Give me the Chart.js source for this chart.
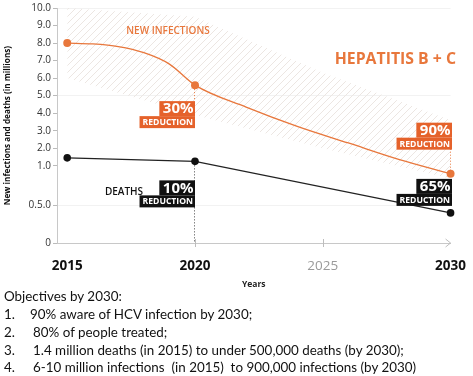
<!DOCTYPE html>
<html><head><meta charset="utf-8">
<script src="https://cdn.jsdelivr.net/npm/chart.js@4.4.1/dist/chart.umd.min.js"></script>
<style>
html,body{margin:0;padding:0;background:#fff;}
#wrap{position:relative;width:473px;height:376px;overflow:hidden;background:#fff;}
#c{position:absolute;left:0;top:0;}
.ln{position:absolute;left:0;height:18px;line-height:18px;font-family:Lato,'Open Sans',sans-serif;font-size:13.4px;color:#111;white-space:pre;}
.ln span{position:absolute;top:0;}
</style></head>
<body><div id="wrap"><canvas id="c" width="473" height="292"></canvas>
<div class="ln" style="top:287px"><span style="left:4px">Objectives by 2030:</span></div>
<div class="ln" style="top:305px"><span style="left:4px">1.</span><span style="left:30px">90% aware of HCV infection by 2030;</span></div>
<div class="ln" style="top:323px"><span style="left:4px">2.</span><span style="left:33px">80% of people treated;</span></div>
<div class="ln" style="top:341px"><span style="left:4px">3.</span><span style="left:33px">1.4 million deaths (in 2015) to under 500,000 deaths (by 2030);</span></div>
<div class="ln" style="top:358px"><span style="left:4px">4.</span><span style="left:33px">6-10 million infections  (in 2015)  to 900,000 infections (by 2030)</span></div>
</div>
<script>
// ---- data ----
const X_TICKS = [2015, 2020, 2025, 2030];
const Y_TICKS = [0, 0.5, 1, 2, 3, 4, 5, 6, 7, 8, 9, 10];
const Y_TICK_LABELS = ['0', '0.5.0', '1.0', '2.0', '3.0', '4.0', '5.0', '6.0', '7.0', '8.0', '9.0', '10.0'];
const INF_YEARS = [2015, 2016, 2017, 2018, 2019, 2020, 2022, 2024, 2026, 2028, 2030];
const INF_VALUES = [8.0, 7.95, 7.8, 7.45, 6.8, 5.6, 4.35, 3.25, 2.3, 1.35, 0.9];
const DEATH_YEARS = [2015, 2020, 2030];
const DEATH_VALUES = [1.45, 1.25, 0.4];
const MARK_YEARS = [2015, 2020, 2030];
const BAND_YEARS = [2015, 2020, 2025, 2030];
const BAND_UPPER = [10, 9.5, 6.3, 3.6];
const BAND_LOWER = [6.0, 3.9, 2.0, 0.84];
const INF_REDUCTION = ['30%', '90%'];     // 2020, 2030
const DEATH_REDUCTION = ['10%', '65%'];   // 2020, 2030

// ---- styles ----
const FONT = "'Open Sans', sans-serif";
const ORANGE = '#e8773c';
const ORANGE_BOX = '#e5622b';
const BLACK = '#111';

// non-linear (broken) y scale: pixel weight of each gap between Y_TICKS
class BrokenScale extends Chart.LinearScale {
  static id = 'broken';
  static defaults = {};
  buildTicks() { return Y_TICKS.map(v => ({ value: v })); }
  _segs() { return this.options.segments; }
  _frac(v) {
    const s = this._segs();
    const total = s.reduce((a, b) => a + b, 0);
    let acc = 0;
    for (let i = 0; i < Y_TICKS.length - 1; i++) {
      const a = Y_TICKS[i], b = Y_TICKS[i + 1];
      if (v <= b || i === Y_TICKS.length - 2) return (acc + (v - a) / (b - a) * s[i]) / total;
      acc += s[i];
    }
    return 1;
  }
  getPixelForValue(v) { return this.getPixelForDecimal(this._frac(v)); }
  getValueForPixel(p) {
    const f = this.getDecimalForPixel(p);
    const s = this._segs();
    const total = s.reduce((a, b) => a + b, 0);
    let acc = 0;
    for (let i = 0; i < s.length; i++) {
      const n = acc + s[i] / total;
      if (f <= n || i === s.length - 1) return Y_TICKS[i] + (f - acc) / (s[i] / total) * (Y_TICKS[i + 1] - Y_TICKS[i]);
      acc = n;
    }
    return Y_TICKS[Y_TICKS.length - 1];
  }
}
Chart.register(BrokenScale);

function hatch() {
  const c = document.createElement('canvas');
  c.width = 7; c.height = 7;
  const g = c.getContext('2d');
  g.strokeStyle = '#ece6e2'; g.lineWidth = 1;
  g.beginPath();
  g.moveTo(0, 7); g.lineTo(7, 0);
  g.moveTo(-1, 1); g.lineTo(1, -1);
  g.moveTo(6, 8); g.lineTo(8, 6);
  g.stroke();
  return g.createPattern(c, 'repeat');
}

function tag(ctx, xr, yTop, big, color) {
  ctx.save();
  ctx.textBaseline = 'middle';
  ctx.textAlign = 'right';
  ctx.font = `bold 15px ${FONT}`;
  const w1 = ctx.measureText(big).width + 5;
  ctx.fillStyle = color;
  ctx.fillRect(xr - w1, yTop, w1, 15);
  ctx.fillStyle = '#fff';
  ctx.fillText(big, xr - 1.5, yTop + 8);
  ctx.font = `bold 8.6px ${FONT}`;
  const w2 = ctx.measureText('REDUCTION').width + 5;
  ctx.fillStyle = color;
  ctx.fillRect(xr - w2, yTop + 15, w2, 12);
  ctx.fillStyle = '#fff';
  ctx.fillText('REDUCTION', xr - 2, yTop + 21.5);
  ctx.restore();
}

function dotted(ctx, x, y1, y2, color) {
  ctx.save();
  ctx.strokeStyle = color; ctx.lineWidth = 1; ctx.setLineDash([1, 2]);
  ctx.beginPath(); ctx.moveTo(x + 0.5, y1); ctx.lineTo(x + 0.5, y2); ctx.stroke();
  ctx.restore();
}

const annot = {
  id: 'annot',
  afterDatasetsDraw(chart) {
    const { ctx, scales: { x, y } } = chart;
    const x20 = x.getPixelForValue(2020), x25 = x.getPixelForValue(2025), x30 = x.getPixelForValue(2030);
    const base = y.getPixelForValue(0);
    const i20 = y.getPixelForValue(INF_VALUES[INF_YEARS.indexOf(2020)]);
    const i30 = y.getPixelForValue(INF_VALUES[INF_YEARS.indexOf(2030)]);
    const d20 = y.getPixelForValue(DEATH_VALUES[DEATH_YEARS.indexOf(2020)]);
    const d30 = y.getPixelForValue(DEATH_VALUES[DEATH_YEARS.indexOf(2030)]);

    // x-axis ticks + arrow
    ctx.save();
    ctx.strokeStyle = '#bdbdbd'; ctx.lineWidth = 1;
    ctx.beginPath();
    [x20, x25].forEach(px => { ctx.moveTo(Math.round(px) + 0.5, base - 4); ctx.lineTo(Math.round(px) + 0.5, base + 4); });
    ctx.moveTo(x30 - 5, base - 4); ctx.lineTo(x30, base); ctx.lineTo(x30 - 5, base + 4);
    ctx.stroke();
    ctx.restore();

    // dotted connectors
    dotted(ctx, Math.round(x20) - 1, i20 + 4, i20 + 16, ORANGE);
    dotted(ctx, Math.round(x20) - 1, d20 + 4, base, '#444');
    dotted(ctx, Math.round(x30) - 1, i30 - 25, i30 - 3, ORANGE);

    // tags
    tag(ctx, Math.round(x20), i20 + 16, INF_REDUCTION[0], ORANGE_BOX);
    tag(ctx, Math.round(x30) + 1, i30 - 51, INF_REDUCTION[1], ORANGE_BOX);
    tag(ctx, Math.round(x20), d20 + 19, DEATH_REDUCTION[0], BLACK);
    tag(ctx, Math.round(x30) + 1, d30 - 34, DEATH_REDUCTION[1], BLACK);

    // texts
    ctx.save();
    ctx.textBaseline = 'middle';
    ctx.textAlign = 'center';
    ctx.fillStyle = ORANGE;
    ctx.font = `600 10px ${FONT}`;
    ctx.fillText('NEW INFECTIONS', 168, 31);
    ctx.textAlign = 'right';
    ctx.font = `bold 15.8px ${FONT}`;
    ctx.fillText('HEPATITIS B + C', 456, 59);
    ctx.textAlign = 'center';
    ctx.fillStyle = BLACK;
    ctx.font = `600 10px ${FONT}`;
    ctx.fillText('DEATHS', 124, 192);
    ctx.restore();
  }
};

new Chart(document.getElementById('c'), {
  type: 'line',
  data: {
    datasets: [
      {
        label: 'New infections',
        data: INF_YEARS.map((yr, i) => ({ x: yr, y: INF_VALUES[i] })),
        borderColor: ORANGE, borderWidth: 1.3,
        cubicInterpolationMode: 'monotone',
        pointRadius: c => (c.raw && MARK_YEARS.includes(c.raw.x)) ? 4 : 0,
        pointBackgroundColor: ORANGE, pointBorderWidth: 0,
        fill: false, clip: false
      },
      {
        label: 'Deaths',
        data: DEATH_YEARS.map((yr, i) => ({ x: yr, y: DEATH_VALUES[i] })),
        borderColor: '#222', borderWidth: 1.2, tension: 0,
        pointRadius: 3.8, pointBackgroundColor: BLACK, pointBorderWidth: 0,
        fill: false, clip: false
      },
      {
        label: 'Range upper',
        data: BAND_YEARS.map((yr, i) => ({ x: yr, y: BAND_UPPER[i] })),
        borderWidth: 0, pointRadius: 0, tension: 0,
        fill: '+1', backgroundColor: hatch()
      },
      {
        label: 'Range lower',
        data: BAND_YEARS.map((yr, i) => ({ x: yr, y: BAND_LOWER[i] })),
        borderWidth: 0, pointRadius: 0, tension: 0, fill: false
      }
    ]
  },
  options: {
    responsive: false, animation: false, events: [],
    layout: { padding: { top: 6, right: 19, left: 0, bottom: 0 } },
    plugins: { legend: { display: false }, tooltip: { enabled: false } },
    scales: {
      x: {
        type: 'linear', min: 2014.6, max: 2030,
        afterBuildTicks: s => { s.ticks = X_TICKS.map(v => ({ value: v })); },
        ticks: {
          callback: v => String(v), autoSkip: false, maxRotation: 0, padding: 7,
          font: c => ({ family: FONT, size: 13.5, weight: (c.tick && c.tick.value === 2025) ? 'normal' : 'bold' }),
          color: c => (c.tick && c.tick.value === 2025) ? '#9a9a9a' : '#111'
        },
        grid: { display: false },
        border: { color: '#c8c8c8', width: 1 },
        title: { display: true, text: 'Years', color: '#222', font: { family: FONT, size: 8.5, weight: 'bold' }, padding: { top: 0, bottom: 2 } },
        afterFit: s => { s.height = 292 - 243; }
      },
      y: {
        type: 'broken', min: 0, max: 10,
        segments: [38, 40, 17.7, 17.7, 17.7, 17.7, 17.7, 17.7, 17.7, 17.7, 17.7],
        ticks: { callback: (v, i) => Y_TICK_LABELS[i], autoSkip: false, padding: 2, color: '#333', font: { family: FONT, size: 10 } },
        grid: {
          color: c => (c.tick && [10, 5, 0.5].includes(c.tick.value)) ? '#f2f2f2' : 'rgba(0,0,0,0)',
          tickColor: '#bbb', tickLength: 4, lineWidth: 1
        },
        border: { color: '#c8c8c8', width: 1 },
        title: { display: true, text: 'New infections and deaths (in millions)', color: '#111', font: { family: FONT, size: 8.2, weight: 'bold' }, padding: { top: 3, bottom: 0 } },
        afterFit: s => { s.width = 57; }
      }
    }
  },
  plugins: [annot]
});
</script>
</body></html>
